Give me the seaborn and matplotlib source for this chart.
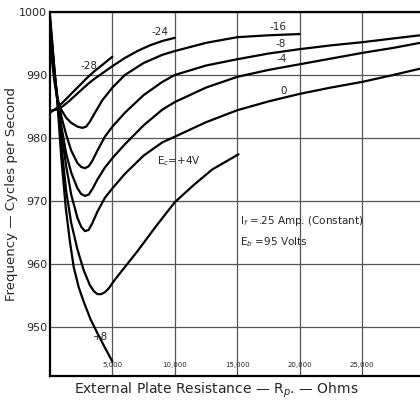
"""
plot.py
Oscillator frequency vs external plate resistance, one curve per grid bias.

Run: python plot.py
"""

import matplotlib
matplotlib.use("Agg")
import matplotlib.pyplot as plt
import matplotlib.ticker as mticker
import pandas as pd
import seaborn as sns

# ─────────────────────────────────────────────────────────────────────────────
# Data (R in ohms, f in cycles per second)
# ─────────────────────────────────────────────────────────────────────────────

R_P8 = [0, 150, 350, 600, 900, 1270, 1600, 1900, 2300, 2700, 3250, 3800, 4400, 5000]
F_P8 = [999.5, 996, 991, 985.5, 977, 968.8, 963.5, 959.5, 956.3, 954, 951.2, 949, 946.7, 944.5]

R_P4 = [0, 150, 350, 600, 900, 1300, 1700, 2200, 2700, 3200, 3500, 3800, 4100, 4400, 4700,
        5200, 6000, 7000, 8500, 10000, 11500, 13000, 15100]
F_P4 = [999, 995.5, 991, 986, 979, 971.5, 966.5, 962.3, 959, 956.6, 955.7, 955.2, 955.2, 955.5, 956.1,
        957.5, 959.5, 962, 966, 969.8, 972.5, 975, 977.4]

R_LONG = [0, 150, 350, 600, 900, 1300, 1700, 2200, 2500, 2800, 3100, 3400, 3800, 4400, 5000,
          6000, 7500, 9000, 10000, 12500, 15000, 17500, 20000, 22500, 25000, 27500, 29640]
F_0  = [998.5, 995, 990.5, 986, 981, 975.5, 971, 967.3, 965.9, 965.2, 965.4, 966.5, 968.3, 970.5, 972.0,
        974.3, 977.2, 979.3, 980.2, 982.5, 984.4, 985.8, 987.0, 988.0, 988.9, 990.0, 991.0]
F_M4 = [998, 994.5, 990, 986, 982, 977.5, 974.5, 972, 971.1, 970.8, 971.0, 971.9, 973.4, 975.3, 976.8,
        979, 982, 984.5, 985.7, 988, 989.7, 990.8, 991.7, 992.6, 993.5, 994.3, 995.1]
F_M8 = [997.5, 994, 990, 986.5, 983.5, 980.5, 978, 976, 975.4, 975.2, 975.5, 976.4, 978.0, 980.2, 981.8,
        984, 986.8, 988.9, 990, 991.5, 992.5, 993.4, 994.1, 994.7, 995.2, 995.8, 996.3]

R_M16 = [0, 150, 350, 600, 900, 1300, 1700, 2200, 2600, 2900, 3200, 3600, 4200, 5000,
         6000, 7500, 9000, 10000, 12500, 15000, 17500, 20000]
F_M16 = [996, 992.5, 989, 986, 984.5, 983.2, 982.4, 981.8, 981.6, 981.8, 982.6, 984, 986, 988,
         990, 991.9, 993.2, 993.8, 995.1, 996.0, 996.3, 996.5]

R_M24 = [0, 500, 1000, 1500, 2000, 2500, 3000, 3500, 4000, 5000, 6000, 7000, 8000, 9000, 10000]
F_M24 = [984.3, 984.5, 985.0, 985.8, 986.7, 987.6, 988.5, 989.3, 990.0, 991.4, 992.7,
         993.8, 994.7, 995.4, 995.9]

R_M28 = [0, 500, 1000, 1500, 2000, 2500, 3000, 3500, 4000, 4500, 5000]
F_M28 = [984.0, 984.7, 985.6, 986.6, 987.6, 988.6, 989.6, 990.5, 991.3, 992.1, 992.9]

CURVES = {
    "+8":  (R_P8, F_P8),
    "+4":  (R_P4, F_P4),
    "0":   (R_LONG, F_0),
    "-4":  (R_LONG, F_M4),
    "-8":  (R_LONG, F_M8),
    "-16": (R_M16, F_M16),
    "-24": (R_M24, F_M24),
    "-28": (R_M28, F_M28),
}

# curve label text and where it sits (R, f)
LABELS = [
    ("-28", 3100, 991.4),
    ("-24", 8800, 996.8),
    ("-16", 18300, 997.6),
    ("-8", 18500, 994.9),
    ("-4", 18600, 992.5),
    ("0", 18700, 987.4),
    ("E$_c$=+4V", 10300, 976.3),
    ("+8", 4050, 948.4),
]

X_TICKS = [5000, 10000, 15000, 20000, 25000]
X_TICK_LABELS = ["5,000", "10,000", "15,000", "20,000", "25,000"]
Y_TICKS = [950, 960, 970, 980, 990, 1000]


rows = []
for bias, (rs, fs) in CURVES.items():
    for r, f in zip(rs, fs):
        rows.append({"bias": bias, "R": r, "f": f})
df = pd.DataFrame(rows)

sns.set_style("white")
plt.rcParams["font.family"] = ["DejaVu Sans"]

fig = plt.figure(figsize=(4.2, 4.0), dpi=100)
ax = fig.add_axes([0.119, 0.06, 0.881, 0.91])

sns.lineplot(data=df, x="R", y="f", units="bias", estimator=None, sort=False,
             color="black", linewidth=1.6, ax=ax)

ax.set_xlim(0, 29640)
ax.set_ylim(942.2, 1000)

ax.set_xticks(X_TICKS)
ax.set_xticklabels(X_TICK_LABELS)
ax.set_yticks(Y_TICKS)
ax.yaxis.set_major_formatter(mticker.FormatStrFormatter("%d"))
ax.tick_params(axis="x", length=0, pad=-10, labelsize=5)
ax.tick_params(axis="y", length=0, pad=2, labelsize=8)
ax.grid(True, color="#555555", linewidth=0.9)

for side in ("left", "bottom", "top"):
    ax.spines[side].set_color("black")
    ax.spines[side].set_linewidth(1.6)
ax.spines["right"].set_visible(False)

for text, r, f in LABELS:
    ax.text(r, f, text, fontsize=7.5, ha="center", va="center")

ax.text(15250, 966.8, "I$_f$ =.25 Amp. (Constant)", fontsize=7.5, va="center")
ax.text(15250, 963.5, "E$_b$ =95 Volts", fontsize=7.5, va="center")

ax.set_xlabel("External Plate Resistance — R$_p$. — Ohms", fontsize=10)
ax.set_ylabel("Frequency — Cycles per Second", fontsize=9.5)
ax.xaxis.set_label_coords(0.45, -0.012)
ax.yaxis.set_label_coords(-0.086, 0.5)

plt.savefig("out.png", dpi=100)
plt.close()
